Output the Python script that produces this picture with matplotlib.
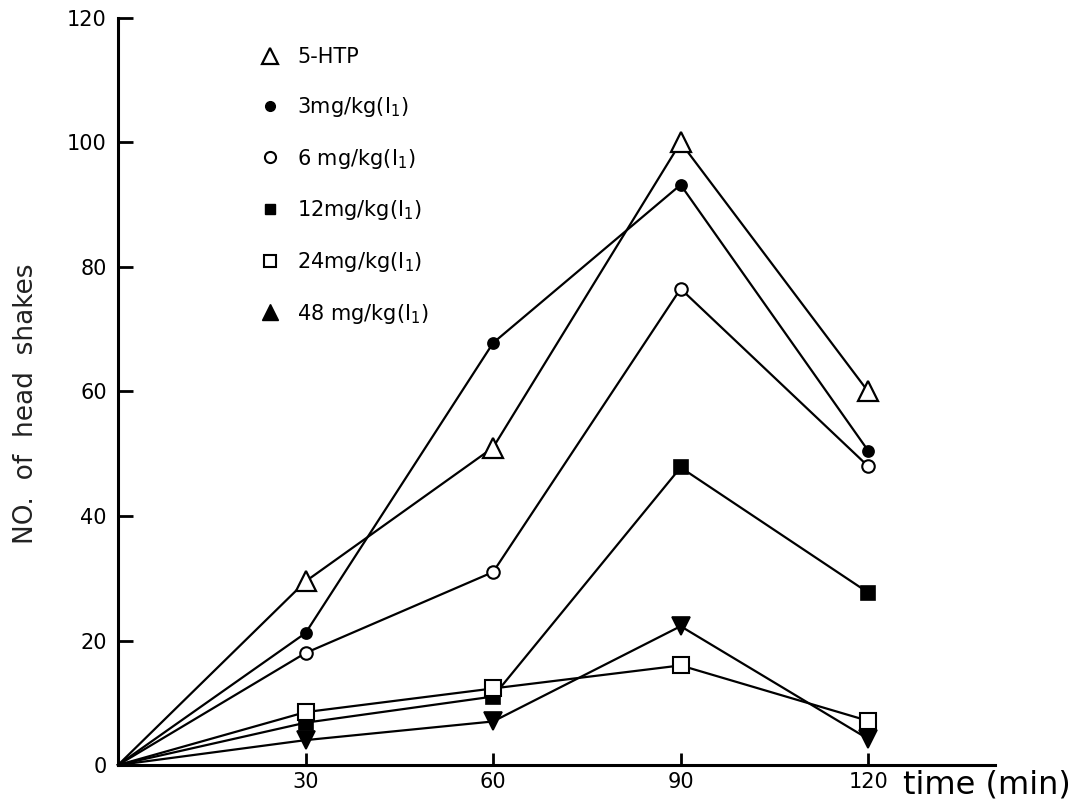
import matplotlib
matplotlib.use("Agg")
import matplotlib.pyplot as plt
from matplotlib.lines import Line2D
from matplotlib.transforms import blended_transform_factory

# Time points (min) and head-shake counts per treatment
times = [0, 30, 60, 90, 120]
htp_5 = [0, 29.5, 51, 100, 60]
dose_3 = [0, 21.2, 67.8, 93.2, 50.5]
dose_6 = [0, 18.0, 31.0, 76.5, 48.0]
dose_12 = [0, 6.8, 11.0, 47.8, 27.7]
dose_24 = [0, 8.5, 12.3, 16.0, 7.1]
dose_48 = [0, 4.0, 7.0, 22.3, 4.2]

labels = ["5-HTP", "3mg/kg(I$_1$)", "6 mg/kg(I$_1$)", "12mg/kg(I$_1$)",
          "24mg/kg(I$_1$)", "48 mg/kg(I$_1$)"]
y_ticks = [0, 20, 40, 60, 80, 100, 120]
x_ticks = [30, 60, 90, 120]

plt.rcParams["font.family"] = ["DejaVu Sans"]

fig = plt.figure(figsize=(10.89, 8.02), dpi=100)
ax = fig.add_axes([0.1084, 0.0461, 0.8053, 0.9315])

series = [
    (htp_5, dict(marker="^", mfc="white", ms=14, mew=1.6)),
    (dose_3, dict(marker="o", mfc="black", ms=8, mew=1.2)),
    (dose_6, dict(marker="o", mfc="white", ms=9, mew=1.5)),
    (dose_12, dict(marker="s", mfc="black", ms=10, mew=1.2)),
    (dose_24, dict(marker="s", mfc="white", ms=11, mew=1.5)),
    (dose_48, dict(marker="v", mfc="black", ms=13, mew=1.2)),
]
for vals, style in series:
    ax.plot(times, vals, color="black", lw=1.6, mec="black",
            markevery=[1, 2, 3, 4], zorder=3, clip_on=False, **style)

ax.set_xlim(0, 140.3)
ax.set_ylim(0, 120)
ax.spines["top"].set_visible(False)
ax.spines["right"].set_visible(False)
ax.spines["left"].set_linewidth(2.2)
ax.spines["bottom"].set_linewidth(2.2)

ax.set_yticks(y_ticks)
ax.set_yticklabels([str(v) for v in y_ticks], fontsize=15)
ax.set_xticks(x_ticks)
ax.set_xticklabels([str(v) for v in x_ticks], fontsize=15)
ax.tick_params(axis="y", direction="in", length=11, width=2, pad=8)
ax.tick_params(axis="x", direction="in", length=9, width=2, pad=5)

ax.set_ylabel("NO.  of  head  shakes", fontsize=19, color="#222222")
ax.yaxis.set_label_coords(-0.09, 0.483)

trans = blended_transform_factory(ax.transData, ax.transAxes)
ax.text(125.5, -0.006, "time (min)", transform=trans, fontsize=23,
        ha="left", va="top")

# Legend entries (the 48 mg/kg key uses an upright filled triangle)
handles = [
    Line2D([], [], ls="none", marker="^", mfc="white", mec="black", ms=11, mew=1.6),
    Line2D([], [], ls="none", marker="o", mfc="black", mec="black", ms=7),
    Line2D([], [], ls="none", marker="o", mfc="white", mec="black", ms=8, mew=1.5),
    Line2D([], [], ls="none", marker="s", mfc="black", mec="black", ms=7),
    Line2D([], [], ls="none", marker="s", mfc="white", mec="black", ms=8, mew=1.5),
    Line2D([], [], ls="none", marker="^", mfc="black", mec="black", ms=11),
]
leg = ax.legend(handles, labels, loc="upper left", bbox_to_anchor=(0.152, 0.972),
                frameon=False, fontsize=15, handlelength=1.0, handletextpad=0.8,
                labelspacing=1.33, borderaxespad=0)

fig.savefig("out.png", dpi=100, facecolor="white")
